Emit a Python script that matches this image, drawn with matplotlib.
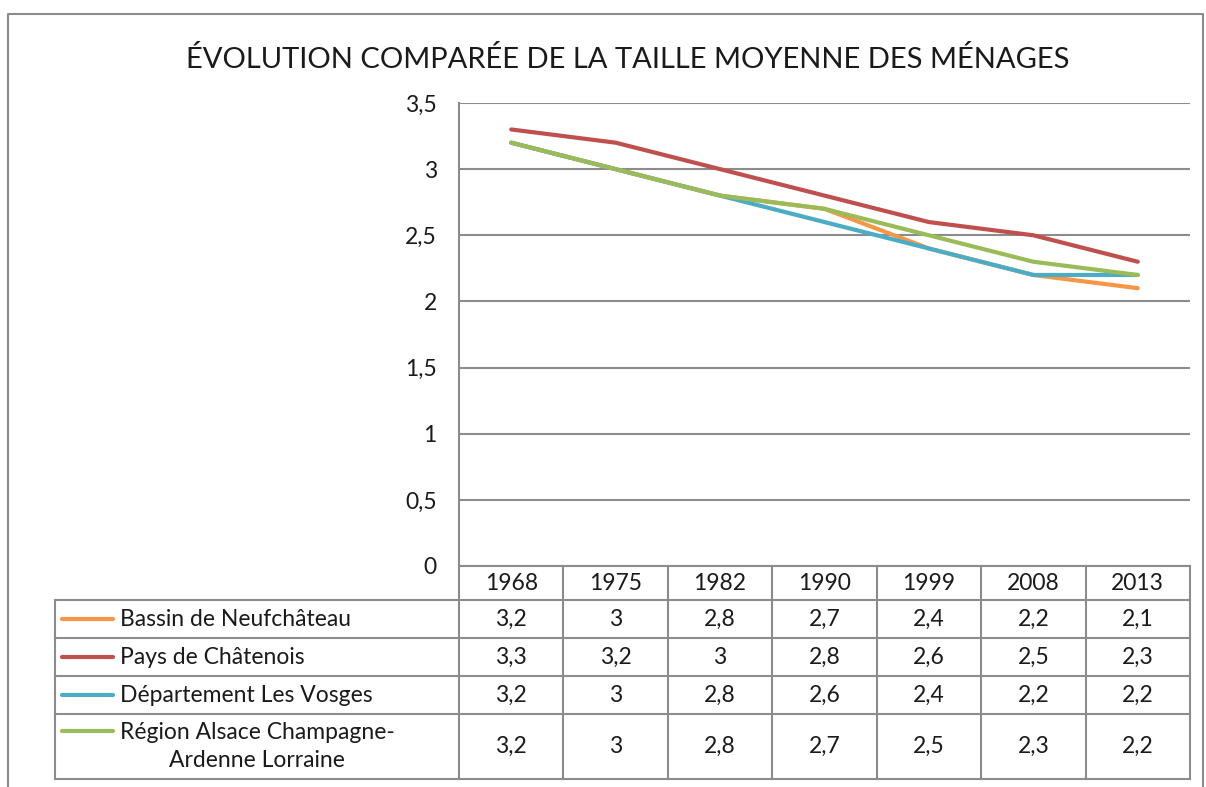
import matplotlib
matplotlib.use("Agg")
import matplotlib.pyplot as plt
from matplotlib.ticker import FuncFormatter

plt.rcParams['font.family'] = ['Lato', 'DejaVu Sans']

title = "ÉVOLUTION COMPARÉE DE LA TAILLE MOYENNE DES MÉNAGES"
years = ["1968", "1975", "1982", "1990", "1999", "2008", "2013"]
names = ["Bassin de Neufchâteau", "Pays de Châtenois", "Département Les Vosges",
         "Région Alsace Champagne-\nArdenne Lorraine"]
bassin = [3.2, 3.0, 2.8, 2.7, 2.4, 2.2, 2.1]
pays = [3.3, 3.2, 3.0, 2.8, 2.6, 2.5, 2.3]
vosges = [3.2, 3.0, 2.8, 2.6, 2.4, 2.2, 2.2]
region = [3.2, 3.0, 2.8, 2.7, 2.5, 2.3, 2.2]
series = [bassin, pays, vosges, region]
colors = ["#F79646", "#C0504D", "#4BACC6", "#9BBB59"]

W, H = 1206, 787
grid_c = "#8c8c8c"
txt_c = "#1a1a1a"
fs = 16.5

def fmt(v):
    return ("%g" % v).replace(".", ",")

fig = plt.figure(figsize=(W / 100, H / 100), dpi=100)

# pixel-space overlay for the frame, title and data table
bg = fig.add_axes([0, 0, 1, 1])
bg.set_xlim(0, W)
bg.set_ylim(H, 0)
bg.axis("off")

# plot area in pixels
L, R, T, B = 459, 1190, 103, 566
ax = fig.add_axes([L / W, 1 - B / H, (R - L) / W, (B - T) / H])
ax.set_xlim(-0.5, len(years) - 0.5)
ax.set_ylim(0, 3.5)
ax.set_yticks([0, 0.5, 1, 1.5, 2, 2.5, 3, 3.5])
ax.yaxis.set_major_formatter(FuncFormatter(lambda v, p: fmt(v)))
ax.set_xticks([])
ax.grid(axis="y", color=grid_c, lw=1.5)
ax.set_axisbelow(True)
for s in ["top", "right", "bottom"]:
    ax.spines[s].set_visible(False)
ax.spines["left"].set_color(grid_c)
ax.spines["left"].set_linewidth(1.5)
ax.tick_params(axis="y", length=0, pad=16, labelsize=fs, labelcolor=txt_c)
ax.patch.set_alpha(0)

x = list(range(len(years)))
for vals, c in zip(series, colors):
    ax.plot(x, vals, color=c, lw=3, solid_capstyle="round")

# outer frame
bg.plot([8, 8, 1203, 1203], [H, 14, 14, H], color=grid_c, lw=1.5)

bg.text((8 + 1203) / 2 + 22, 60, title, ha="center", va="center", fontsize=21,
        color=txt_c)

# data table
col_w = (R - L) / len(years)
rows = [600, 638, 676, 714, 779]
hdr_top = B
leg_left = 55
lw_t = 1.5

bg.plot([L, R], [hdr_top, hdr_top], color=grid_c, lw=lw_t)
for i in range(len(years) + 1):
    xx = L + i * col_w
    bg.plot([xx, xx], [hdr_top, rows[-1]], color=grid_c, lw=lw_t)
for yy in rows:
    bg.plot([leg_left, R], [yy, yy], color=grid_c, lw=lw_t)
bg.plot([leg_left, leg_left], [rows[0], rows[-1]], color=grid_c, lw=lw_t)

for i, yr in enumerate(years):
    bg.text(L + (i + 0.5) * col_w, (hdr_top + rows[0]) / 2 + 1, yr,
            ha="center", va="center", fontsize=fs, color=txt_c)

for r, (name, vals, c) in enumerate(zip(names, series, colors)):
    y0, y1 = rows[r], rows[r + 1]
    yc = (y0 + y1) / 2
    nlines = name.count("\n") + 1
    key_y = yc if nlines == 1 else y0 + 17
    bg.plot([62, 113], [key_y, key_y], color=c, lw=3, solid_capstyle="round")
    bg.text(120, yc, name, ha="left", va="center", fontsize=fs, color=txt_c,
            multialignment="center", linespacing=1.45)
    for i, v in enumerate(vals):
        bg.text(L + (i + 0.5) * col_w, yc, fmt(v), ha="center", va="center",
                fontsize=fs, color=txt_c)

fig.savefig("out.png", dpi=100)
